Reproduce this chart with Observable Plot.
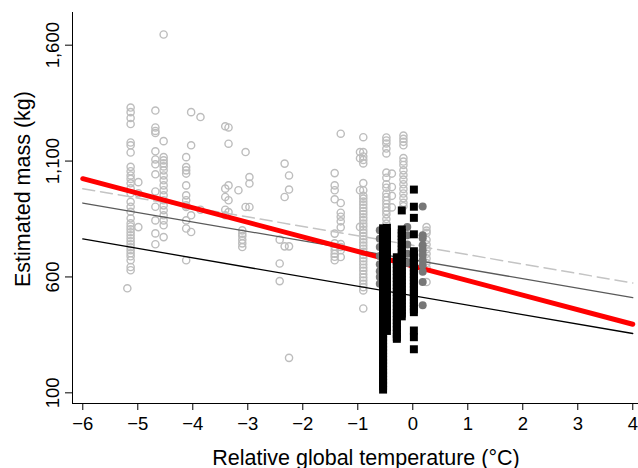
<!DOCTYPE html>
<html><head><meta charset="utf-8">
<script src="https://cdn.jsdelivr.net/npm/d3@7"></script>
<script src="https://cdn.jsdelivr.net/npm/@observablehq/plot@0.6"></script>
<style>body{margin:0;background:#fff} svg{display:block}</style>
</head><body><div id="chart"></div>
<script>
// Light grey open circles: [relative temperature, [masses]]
const openCols = [
  [-5.19, [551]],
  [-5.13, [1331, 1311, 1286, 1260, 1180, 1168, 1137, 1075, 1056, 1038, 1023, 1004, 982, 961, 924, 903, 881, 853, 831, 818, 806, 793, 780, 767, 754, 741, 728, 715, 702, 689, 672, 643, 629]],
  [-4.99, [1009, 961, 815]],
  [-4.68, [1318, 1245, 1230, 1221, 1142, 1107, 1086, 1043, 969, 903, 844, 788, 741]],
  [-4.53, [1646, 1186, 1117, 1103, 1090, 1077, 1060, 1038, 1017, 995, 974, 952, 931, 909, 888, 866, 844, 823, 772]],
  [-4.12, [1117, 1074, 1060, 1046, 995, 952, 931, 909, 902, 844, 809, 672]],
  [-4.03, [1311, 1168, 866, 794]],
  [-3.86, [1290, 890]],
  [-3.41, [1250, 981, 945, 890, 866]],
  [-3.35, [1245, 1175, 995, 931, 880]],
  [-3.17, [974]],
  [-3.10, [801, 787, 777, 760, 745, 729]],
  [-3.04, [1139, 902]],
  [-2.97, [1031, 1003, 902]],
  [-2.42, [761, 658, 582]],
  [-2.33, [1089, 945, 732]],
  [-2.25, [1038, 977, 732, 251]],
  [-1.42, [1048, 995, 974, 935, 787, 745, 730, 715, 700, 687, 672]],
  [-1.31, [1218, 919, 877, 860, 840, 814, 742, 729, 715, 686]],
  [-0.96, [1139, 1112, 974, 816]],
  [-0.90, [1203, 1139, 1120, 1105, 1090, 1005, 974, 950, 938, 925, 912, 898, 884, 871, 857, 845, 830, 818, 803, 790, 776, 762, 749, 735, 722, 708, 695, 681, 668, 654, 640, 627, 612, 598, 585, 570, 556, 542, 464]],
  [-0.48, [1202, 1189, 1176, 1154, 1133, 1050, 1028, 1000, 985, 960, 945, 930, 915, 900, 885, 870, 850, 830]],
  [-0.38, [1046, 988, 950, 900]],
  [-0.17, [1210, 1196, 1183, 1168, 1113, 1098, 1083, 1060, 1040, 1020, 1000, 980, 960, 940, 920, 905]],
  [0.25, [815, 800, 790, 760, 740, 720, 700, 680, 660, 640, 578]]
];
// Dark grey filled circles
const darkCols = [
  [-0.60, [801, 765, 729, 690, 655, 625, 600, 571]],
  [-0.10, [815, 780, 740, 700, 660]],
  [0.18, [904, 780, 767, 737, 715, 695, 672, 650, 622, 578, 478]]
];
// Black filled squares
const squareCols = [
  [-0.54, [810, 798, 782, 771, 757, 740, 728, 712, 698, 684, 668, 655, 641, 626, 612, 598, 585, 570, 556, 541, 527, 512, 499, 484, 470, 456, 441, 428, 413, 399, 385, 370, 356, 342, 328, 313, 299, 285, 271, 256, 242, 228, 214, 199, 185, 171, 157, 143, 128, 114]],
  [-0.47, [812, 795, 778, 762, 745, 729, 712, 696, 680, 663, 647, 630, 614, 598, 581, 565, 548, 532, 515, 499, 482, 466, 450, 433, 417, 400, 384, 367]],
  [-0.20, [887, 805, 790, 776, 761, 747, 732, 718, 703, 689, 674, 660, 645, 631, 616, 602, 587, 573, 558, 544, 529, 515, 500, 486, 471, 457, 442, 430]],
  [-0.29, [685, 670, 655, 640, 625, 610, 595, 580, 565, 550, 535, 520, 505, 490, 475, 460, 445, 430, 415, 400, 385, 370, 355, 340, 333]],
  [0.02, [977, 903, 855, 784, 711, 697, 683, 669, 655, 641, 627, 613, 599, 585, 571, 557, 543, 529, 515, 501, 487, 473, 460, 448, 369, 340, 288]]
];
// Fitted lines (endpoints at -6 and 4 °C)
const lineT = [-6, 4];
const redLine = [1024, 396];
const dashedLine = [981, 574];
const greyLine = [919, 511];
const blackLine = [764, 356];

const xTicks = [-6, -5, -4, -3, -2, -1, 0, 1, 2, 3, 4];
const yTicks = [100, 600, 1100, 1600];
const xTitle = "Relative global temperature (°C)";
const yTitle = "Estimated mass (kg)";

const flat = cols => cols.flatMap(([t, ms]) => ms.map(m => ({t, m})));
const openPts = flat(openCols), darkPts = flat(darkCols), sqPts = flat(squareCols);
const lineData = vals => lineT.map((t, i) => ({t, m: vals[i]}));

const font = "'Liberation Sans', Arial, Helvetica, sans-serif";
const chart = Plot.plot({
  width: 638, height: 468,
  marginLeft: 72, marginRight: 0, marginTop: 12, marginBottom: 65,
  style: {fontFamily: font, background: "white", color: "black"},
  x: {domain: [-6.187, 4.104]},
  y: {domain: [54, 1741]},
  marks: [
    Plot.dot(openPts, {x: "t", y: "m", r: 3.6, stroke: "#bdbdbd", strokeWidth: 1.4, fill: "none"}),
    Plot.line(lineData(dashedLine), {x: "t", y: "m", stroke: "#c4c4c4", strokeWidth: 1.5, strokeDasharray: "12,6"}),
    Plot.line(lineData(greyLine), {x: "t", y: "m", stroke: "#5a5a5a", strokeWidth: 1.3}),
    Plot.line(lineData(blackLine), {x: "t", y: "m", stroke: "#000", strokeWidth: 1.3}),
    Plot.line(lineData(redLine), {x: "t", y: "m", stroke: "#ff0000", strokeWidth: 5}),
    Plot.dot(darkPts, {x: "t", y: "m", r: 4, fill: "#777", stroke: "none"}),
    Plot.dot(sqPts, {x: "t", y: "m", symbol: "square", r: 4.5, fill: "#000", stroke: "none"}),
    Plot.frame({anchor: "left", stroke: "#000"}),
    Plot.frame({anchor: "bottom", stroke: "#000"}),
    Plot.axisX({ticks: xTicks, tickSize: 7, tickPadding: 6, fontSize: 18.5, label: null}),
    Plot.axisY({ticks: yTicks, tickSize: 7, tickFormat: () => "", label: null}),
    Plot.text(yTicks, {y: d => d, text: d => d3.format(",")(d), frameAnchor: "left", rotate: -90, dx: -14, lineAnchor: "bottom", textAnchor: "middle", fontSize: 18.5}),
    Plot.text([yTitle], {frameAnchor: "left", rotate: -90, dx: -43, dy: -19, lineAnchor: "bottom", textAnchor: "middle", fontSize: 21.5}),
    Plot.text([xTitle], {frameAnchor: "bottom", dx: 10.5, dy: 61, lineAnchor: "bottom", textAnchor: "middle", fontSize: 21.5})
  ]
});
document.getElementById("chart").append(chart);
</script>
</body></html>
